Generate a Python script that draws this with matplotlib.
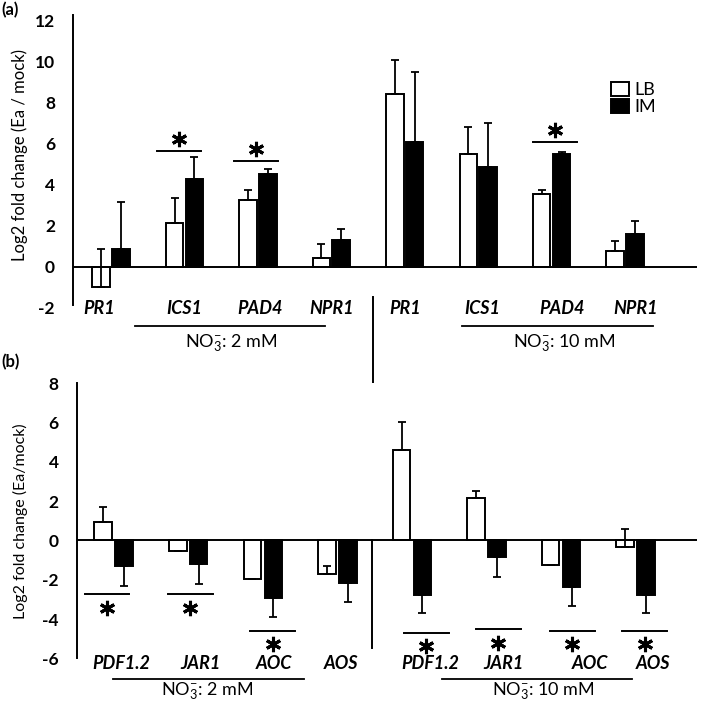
import matplotlib.pyplot as plt
from matplotlib.patches import Patch
import numpy as np

plt.rcParams['font.family'] = ['Lato', 'DejaVu Sans']
plt.rcParams['mathtext.fontset'] = 'custom'
plt.rcParams['mathtext.rm'] = 'Lato'
plt.rcParams['mathtext.it'] = 'Lato:italic'
plt.rcParams['mathtext.bf'] = 'Lato:bold'
plt.rcParams['axes.unicode_minus'] = False

# (a) SA-related genes, log2 fold change (Ea / mock)
genes_a = ['PR1', 'ICS1', 'PAD4', 'NPR1', 'PR1', 'ICS1', 'PAD4', 'NPR1']
lb_a = [-1.00, 2.11, 3.24, 0.41, 8.40, 5.51, 3.54, 0.76]
lb_a_err = [1.85, 1.26, 0.49, 0.68, 1.65, 1.27, 0.19, 0.51]
im_a = [0.85, 4.25, 4.54, 1.33, 6.08, 4.88, 5.47, 1.62]
im_a_err = [2.31, 1.10, 0.24, 0.49, 3.41, 2.11, 0.11, 0.62]

# (b) JA-related genes (signed errors: whisker end = value + err)
genes_b = ['PDF1.2', 'JAR1', 'AOC', 'AOS', 'PDF1.2', 'JAR1', 'AOC', 'AOS']
lb_b = [0.96, -0.52, -1.96, -1.71, 4.61, 2.15, -1.25, -0.35]
lb_b_err = [0.76, 0.0, 0.0, 0.43, 1.41, 0.37, 0.0, 0.93]
im_b = [-1.30, -1.21, -2.91, -2.18, -2.78, -0.82, -2.35, -2.78]
im_b_err = [-1.00, -1.02, -1.00, -0.97, -0.93, -1.02, -0.98, -0.93]

groups = ['NO$_3^{-}$: 2 mM', 'NO$_3^{-}$: 10 mM']

# significance marks (category index)
sig_a = [1, 2, 6]
sig_b = [0, 1, 2, 4, 5, 6, 7]

fig = plt.figure(figsize=(7.09, 7.06), dpi=100)
W, H = 709, 706


def px_axes(left, top, right, bottom):
    return fig.add_axes([left / W, 1 - bottom / H, (right - left) / W, (bottom - top) / H])


def sign_err(err):
    err = np.array(err)
    return [np.clip(-err, 0, None), np.clip(err, 0, None)]


def draw_bars(ax, lb, lb_err, im, im_err, off, width):
    x = np.arange(len(lb))
    ax.bar(x - off, lb, width, color='white', edgecolor='black', linewidth=1.4, zorder=2)
    ax.bar(x + off, im, width, color='black', edgecolor='black', linewidth=1.4, zorder=2)
    ax.errorbar(x - off, lb, yerr=sign_err(lb_err), fmt='none', ecolor='black',
                elinewidth=1.3, capsize=3, capthick=1.3, zorder=3)
    ax.errorbar(x + off, im, yerr=sign_err(im_err), fmt='none', ecolor='black',
                elinewidth=1.3, capsize=3, capthick=1.3, zorder=3)


def style_axes(ax, ylim, yticks, xlim):
    ax.set_xlim(*xlim)
    ax.set_ylim(*ylim)
    for s in ['top', 'right', 'bottom']:
        ax.spines[s].set_visible(False)
    ax.spines['left'].set_linewidth(1.4)
    ax.axhline(0, color='black', linewidth=1.4, zorder=4)
    ax.set_xticks([])
    ax.set_yticks(yticks)
    ax.tick_params(axis='y', length=0, pad=13, labelsize=12.5)
    for t in ax.get_yticklabels():
        t.set_fontweight('bold')


def sig_mark(ax, x, y, dy):
    ax.plot([x - 0.3, x + 0.3], [y, y], color='black', linewidth=1.4, clip_on=False)
    ax.plot(x, y + dy, marker=(6, 2, 0), markersize=11, markeredgewidth=2.2,
            color='black', clip_on=False)


# ---------- panel (a) ----------
ax1 = px_axes(73, 15, 697, 308)
draw_bars(ax1, lb_a, lb_a_err, im_a, im_a_err, 0.135, 0.238)
style_axes(ax1, (-2, 12.25), range(-2, 13, 2), (-0.518, 7.98))
ax1.spines['left'].set_bounds(-1.85, 12.25)

lab_off_a = [-0.16, 0, 0.03, 0, 0, 0.05, 0.14, 0.14]
for i, g in enumerate(genes_a):
    ax1.text(i + lab_off_a[i], -2.02, g, ha='center', va='center', fontsize=13,
             style='italic', fontweight='bold', clip_on=False)

sig_y_a = [5.64, 5.14, 6.08]
sig_dx_a = [-0.07, -0.03, 0.05]
for k, i in enumerate(sig_a):
    sig_mark(ax1, i + sig_dx_a[k], sig_y_a[k], 0.58)

# group underlines and labels
ax1.plot([0.33, 2.92], [-2.88, -2.88], color='black', linewidth=1.3, clip_on=False)
ax1.plot([4.78, 7.38], [-2.88, -2.88], color='black', linewidth=1.3, clip_on=False)
ax1.text(1.63, -3.72, groups[0], ha='center', va='center', fontsize=13, clip_on=False)
ax1.text(6.17, -3.72, groups[1], ha='center', va='center', fontsize=13, clip_on=False)
# separator
ax1.plot([3.565, 3.565], [-1.48, -6.64], color='black', linewidth=1.4, clip_on=False)

leg = ax1.legend(handles=[Patch(facecolor='white', edgecolor='black', linewidth=1.4, label='LB'),
                          Patch(facecolor='black', edgecolor='black', linewidth=1.4, label='IM')],
                 loc='upper left', bbox_to_anchor=((611 - 73) / 624, 1 - (82 - 15) / 293),
                 frameon=False, fontsize=13, handlelength=1.0, handleheight=0.8,
                 handletextpad=0.3, labelspacing=0.05, borderpad=0, borderaxespad=0)

fig.text(20 / W, 1 - 155 / H, 'Log2 fold change (Ea / mock)', rotation=90,
         ha='center', va='center', fontsize=12)
fig.text(1 / W, 1 - 10 / H, '(a)', ha='left', va='center', fontsize=12, fontweight='bold')

# ---------- panel (b) ----------
ax2 = px_axes(76.7, 383.3, 696.7, 658.3)
draw_bars(ax2, lb_b, lb_b_err, im_b, im_b_err, 0.14, 0.235)
style_axes(ax2, (-6, 8), range(-6, 9, 2), (-0.496, 7.818))

lab_off_b = [0.10, 0.17, 0.15, 0.05, 0.24, 0.23, 0.39, 0.23]
for i, g in enumerate(genes_b):
    ax2.text(i + lab_off_b[i], -6.25, g, ha='center', va='center', fontsize=13,
             style='italic', fontweight='bold', clip_on=False)

sig_y_b = [-2.72, -2.72, -4.59, -4.69, -4.52, -4.59, -4.59]
sig_dx_b = [-0.09, 0.03, 0.13, 0.19, 0.16, 0.15, 0.12]
for k, i in enumerate(sig_b):
    sig_mark(ax2, i + sig_dx_b[k], sig_y_b[k], -0.7)

ax2.plot([-0.005, 2.55], [-7.07, -7.07], color='black', linewidth=1.3, clip_on=False)
ax2.plot([4.40, 6.95], [-7.07, -7.07], color='black', linewidth=1.3, clip_on=False)
ax2.text(1.25, -7.70, groups[0], ha='center', va='center', fontsize=13, clip_on=False)
ax2.text(5.76, -7.70, groups[1], ha='center', va='center', fontsize=13, clip_on=False)
ax2.plot([3.47, 3.47], [0, -5.47], color='black', linewidth=1.4, clip_on=False)

fig.text(20 / W, 1 - 521 / H, 'Log2 fold change (Ea/mock)', rotation=90,
         ha='center', va='center', fontsize=11.5)
fig.text(1 / W, 1 - 362 / H, '(b)', ha='left', va='center', fontsize=12, fontweight='bold')

fig.savefig('out.png', dpi=100)
